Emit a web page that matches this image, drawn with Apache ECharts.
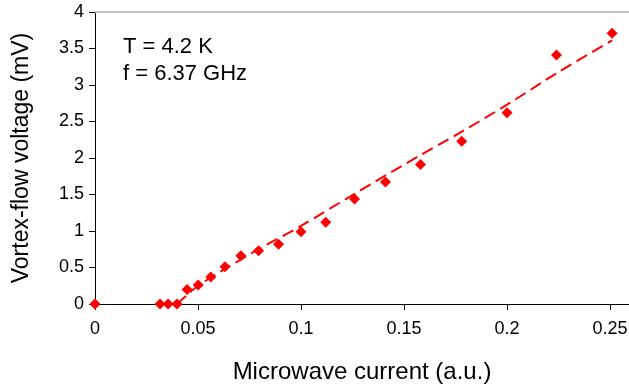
<!DOCTYPE html>
<html lang="en">
<head>
    <meta charset="UTF-8">
    <title>Vortex-flow voltage vs microwave current</title>
    <script src="https://cdn.jsdelivr.net/npm/echarts@6/dist/echarts.min.js"></script>
    <style>
        html, body { margin: 0; padding: 0; background: #fff; }
    </style>
</head>
<body>
    <div id="chart" style="width: 629px; height: 384px;"></div>
    <script>
        // measured points (microwave current, vortex-flow voltage)
        var current = [0, 0.0316, 0.0355, 0.0398, 0.0447, 0.0501, 0.0562, 0.0631, 0.0708, 0.0794,
                       0.0891, 0.1, 0.112, 0.126, 0.141, 0.158, 0.178, 0.2, 0.224, 0.251];
        var voltage = [0, 0, 0, 0, 0.2, 0.26, 0.37, 0.51, 0.66, 0.73,
                       0.82, 0.99, 1.12, 1.44, 1.67, 1.91, 2.23, 2.62, 3.41, 3.71];

        // dashed fit curve
        var fitCurrent = [0.0398, 0.045, 0.05, 0.0631, 0.0794, 0.1, 0.126, 0.158, 0.178, 0.2, 0.224, 0.251];
        var fitVoltage = [0, 0.13, 0.25, 0.48, 0.75, 1.07, 1.51, 2.04, 2.36, 2.73, 3.16, 3.61];

        var xTicks = ['0', '0.05', '0.1', '0.15', '0.2', '0.25'];
        var notes = ['T = 4.2 K', 'f = 6.37 GHz'];

        var points = current.map(function (x, i) { return [x, voltage[i]]; });
        var fit = fitCurrent.map(function (x, i) { return [x, fitVoltage[i]]; });

        var font = 'Liberation Sans, Arial, sans-serif';
        var chart = echarts.init(document.getElementById('chart'));

        var option = {
            animation: false,
            grid: { left: 95, top: 12, right: 0, bottom: 80, outerBoundsMode: 'none', containLabel: false },
            xAxis: [{
                type: 'value',
                min: 0,
                max: 0.2592,
                interval: 0.05,
                name: 'Microwave current (a.u.)',
                nameLocation: 'middle',
                nameGap: 56,
                nameTextStyle: { fontFamily: font, fontSize: 24, color: '#000' },
                axisLine: { lineStyle: { color: '#000', width: 1 } },
                axisTick: { length: 6, lineStyle: { color: '#000' } },
                axisLabel: {
                    fontFamily: font, fontSize: 18, color: '#000', margin: 16,
                    showMaxLabel: false,
                    formatter: function (v) {
                        var i = Math.round(v / 0.05);
                        return Math.abs(v - i * 0.05) < 1e-6 ? xTicks[i] : '';
                    }
                },
                splitLine: { show: false }
            }, {
                type: 'value',
                position: 'top',
                min: 0,
                max: 0.2592,
                axisLine: { show: true, lineStyle: { color: '#c4c4c4', width: 2 } },
                axisTick: { show: false },
                axisLabel: { show: false },
                splitLine: { show: false }
            }],
            yAxis: {
                type: 'value',
                min: 0,
                max: 4,
                interval: 0.5,
                name: 'Vortex-flow voltage (mV)',
                nameLocation: 'middle',
                nameGap: 62,
                nameTextStyle: { fontFamily: font, fontSize: 23, color: '#000' },
                axisLine: { show: true, lineStyle: { color: '#000', width: 1 } },
                axisTick: { show: true, length: 6, lineStyle: { color: '#000' } },
                axisLabel: { fontFamily: font, fontSize: 18, color: '#000', margin: 11 },
                splitLine: { show: false }
            },
            graphic: notes.map(function (t, i) {
                return {
                    type: 'text',
                    left: 123,
                    top: 36 + i * 27,
                    style: { text: t, fontFamily: font, fontSize: 22, fill: '#000' }
                };
            }),
            series: [{
                type: 'line',
                data: fit,
                showSymbol: false,
                smooth: 0.3,
                lineStyle: { color: '#ff0000', width: 2, type: [12, 6] },
                z: 2
            }, {
                type: 'scatter',
                data: points,
                symbol: 'diamond',
                symbolSize: 11,
                clip: false,
                itemStyle: { color: '#ff0000', opacity: 1 },
                z: 3
            }]
        };

        chart.setOption(option);
    </script>
</body>
</html>
